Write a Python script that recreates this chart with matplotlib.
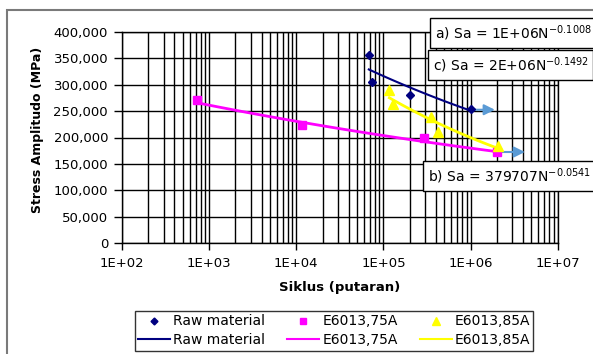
import matplotlib
matplotlib.use("Agg")
import matplotlib.pyplot as plt
from matplotlib.lines import Line2D
from matplotlib.patches import Rectangle
from matplotlib.ticker import FuncFormatter, LogLocator, MultipleLocator
import numpy as np

# ---- data ----
raw_n = [6.8e4, 7.4e4, 2.0e5, 1.0e6]
raw_sa = [357000, 306000, 281000, 253500]

e75_n = [7.2e2, 1.17e4, 2.93e5, 2.0e6]
e75_sa = [271000, 223700, 198500, 173100]

e85_n = [1.17e5, 1.30e5, 3.53e5, 4.28e5, 2.09e6]
e85_sa = [290000, 263500, 238300, 211000, 184500]

# power trend Sa = a * N^b
trend_a = [1.01e6, 379707, 1.57e6]
trend_b = [-0.1008, -0.0541, -0.1492]

# run-out arrows
arrow_n0 = [1.0e6, 2.0e6]
arrow_n1 = [1.9e6, 4.2e6]
arrow_sa = [252600, 172500]

eq_labels = [r"a) Sa = 1E+06N$^{-0.1008}$",
             r"c) Sa = 2E+06N$^{-0.1492}$",
             r"b) Sa = 379707N$^{-0.0541}$"]

NAVY = "#000080"
PINK = "#ff00ff"
YELLOW = "#ffff00"
ARROW = "#5b9bd5"

plt.rcParams["font.family"] = "DejaVu Sans"

fig = plt.figure(figsize=(5.93, 3.54), dpi=100)
W, H = 593, 354
ax = fig.add_axes([122 / W, 1 - 243 / H, (557.7 - 122) / W, (243 - 32) / H])

# outer chart frame
fig.patches.append(Rectangle((7 / W, -0.1), 1.2, 1 - 10 / H + 0.1, transform=fig.transFigure,
                             fill=False, edgecolor="#7a7a7a", linewidth=1.5))

series = [(raw_n, raw_sa, NAVY), (e75_n, e75_sa, PINK), (e85_n, e85_sa, YELLOW)]
widths = [1.5, 2.0, 2.0]
for i, (n, sa, c) in enumerate(series):
    nn = np.logspace(np.log10(min(n)), np.log10(max(n)), 50)
    ax.plot(nn, trend_a[i] * nn ** trend_b[i], color=c, lw=widths[i], zorder=3)

ax.plot(raw_n, raw_sa, "D", color=NAVY, ms=4.5, mec=NAVY, zorder=4)
ax.plot(e75_n, e75_sa, "s", color=PINK, ms=6, mec=PINK, zorder=4)
ax.plot(e85_n, e85_sa, "^", color=YELLOW, ms=7, mec=YELLOW, zorder=4)

for n0, n1, s in zip(arrow_n0, arrow_n1, arrow_sa):
    ax.annotate("", xy=(n1, s), xytext=(n0, s),
                arrowprops=dict(arrowstyle="-|>", color=ARROW, lw=1.5, mutation_scale=16,
                                shrinkA=0, shrinkB=0), zorder=3)

ax.set_xscale("log")
ax.set_xlim(1e2, 1e7)
ax.set_ylim(0, 400000)
ax.yaxis.set_major_locator(MultipleLocator(50000))
ax.yaxis.set_major_formatter(FuncFormatter(lambda v, p: f"{int(v):,}"))
ax.xaxis.set_major_locator(LogLocator(base=10))
ax.xaxis.set_minor_locator(LogLocator(base=10, subs=np.arange(2, 10)))
ax.xaxis.set_major_formatter(FuncFormatter(lambda v, p: f"{v:.0E}"))
ax.tick_params(axis="x", which="minor", length=0)
ax.tick_params(axis="x", which="major", length=5, width=1, pad=5, labelsize=9.5)
ax.tick_params(axis="y", length=6, width=1, pad=4, labelsize=9.5)
ax.grid(True, which="major", color="black", lw=1.0)
ax.grid(True, which="minor", axis="x", color="black", lw=1.0)
ax.set_axisbelow(True)
for sp in ax.spines.values():
    sp.set_color("black")
    sp.set_linewidth(1)

fig.text(38 / W, 1 - 130 / H, "Stress Amplitudo (MPa)", rotation=90, fontsize=9,
         fontweight="bold", ha="center", va="center")
fig.text(340 / W, 1 - 287 / H, "Siklus (putaran)", fontsize=9.5, fontweight="bold",
         ha="center", va="center")

box = dict(boxstyle="square,pad=0.35", facecolor="white", edgecolor="black", lw=1)
eq_pos = [(435, 33), (433, 65), (428, 176)]
for (x, y), lab in zip(eq_pos, eq_labels):
    fig.text(x / W, 1 - y / H, lab, fontsize=10, ha="left", va="center", bbox=box, zorder=5)

handles = [
    Line2D([], [], ls="none", marker="D", color=NAVY, ms=3.5),
    Line2D([], [], color=NAVY, lw=1.5),
    Line2D([], [], ls="none", marker="s", color=PINK, ms=4.5),
    Line2D([], [], color=PINK, lw=1.5),
    Line2D([], [], ls="none", marker="^", color=YELLOW, ms=5.5),
    Line2D([], [], color=YELLOW, lw=1.5),
]
labels = ["Raw material", "Raw material", "E6013,75A", "E6013,75A", "E6013,85A", "E6013,85A"]
leg = fig.legend(handles, labels, ncol=3, loc="upper left", bbox_to_anchor=(135 / W, 1 - 311 / H),
                 fontsize=10, frameon=True, fancybox=False, handlelength=2.3, handletextpad=0.2,
                 columnspacing=1.6, borderpad=0.25, labelspacing=0.35, borderaxespad=0)
leg.get_frame().set_edgecolor("black")
leg.get_frame().set_linewidth(1)

fig.savefig("out.png", dpi=100)
